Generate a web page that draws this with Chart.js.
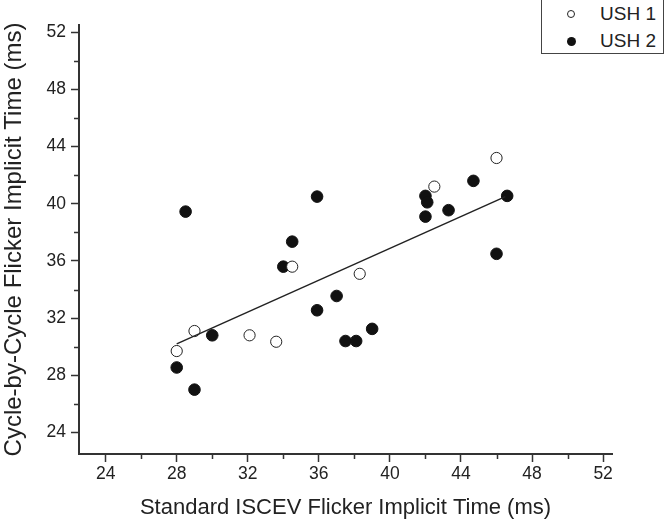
<!DOCTYPE html>
<html>
<head>
<meta charset="utf-8">
<script src="https://cdn.jsdelivr.net/npm/chart.js@4.4.1/dist/chart.umd.min.js"></script>
<style>
  html, body { margin: 0; padding: 0; background: #fff; }
  #wrap { position: relative; width: 664px; height: 522px; }
  #legend { position: absolute; left: 541px; top: -1px; width: 121px; height: 53px;
    border: 1px solid #444; background: #fff; font-family: "Liberation Sans", Arial, sans-serif;
    font-size: 19px; color: #222; }
  .row { position: absolute; left: 0; height: 20px; line-height: 20px; }
  .row span.t { position: absolute; left: 58px; white-space: nowrap; }
  .mk { position: absolute; left: 25px; top: 6px; width: 8px; height: 8px; border-radius: 50%; box-sizing: border-box; }
</style>
</head>
<body>
<div id="wrap">
  <canvas id="c" width="664" height="522"></canvas>
  <div id="legend">
    <div class="row" style="top:4px"><div class="mk" style="border:1px solid #222;background:#fff"></div><span class="t">USH 1</span></div>
    <div class="row" style="top:31px"><div class="mk" style="background:#111;width:9px;height:9px;top:6px"></div><span class="t">USH 2</span></div>
  </div>
</div>
<script>
// ---- data ----
const ush1X = [28.0, 29.0, 32.1, 33.6, 34.5, 38.3, 42.5, 46.0];
const ush1Y = [29.7, 31.1, 30.8, 30.35, 35.6, 35.1, 41.2, 43.2];
const ush2X = [28.5, 34.5, 34.0, 35.9, 28.0, 29.0, 30.0, 35.9, 37.0, 37.5, 38.1, 39.0, 42.0, 42.1, 42.0, 43.3, 44.7, 46.6, 46.0];
const ush2Y = [39.45, 37.35, 35.6, 40.5, 28.55, 27.0, 30.8, 32.55, 33.55, 30.4, 30.4, 31.25, 40.55, 40.1, 39.1, 39.55, 41.6, 40.55, 36.5];
const fitX = [28.0, 46.5];
const fitY = [30.2, 40.5];
const majorTicks = [24, 28, 32, 36, 40, 44, 48, 52];
const minorTicks = [26, 30, 34, 38, 42, 46, 50];
const xTitle = "Standard ISCEV Flicker Implicit Time (ms)";
const yTitle = "Cycle-by-Cycle Flicker Implicit Time (ms)";
const seriesNames = ["USH 1", "USH 2"];

const pts = (xs, ys) => xs.map((x, i) => ({ x, y: ys[i] }));
const FONT = "'Liberation Sans', Arial, sans-serif";
const INK = '#222';

const minorPlugin = {
  id: 'minorTicks',
  afterDraw(chart) {
    const ctx = chart.ctx;
    const xs = chart.scales.x, ys = chart.scales.y;
    ctx.save();
    ctx.strokeStyle = '#333';
    ctx.lineWidth = 1.5;
    ctx.beginPath();
    minorTicks.forEach(v => {
      const px = Math.round(xs.getPixelForValue(v)) + 0.5;
      ctx.moveTo(px, xs.top); ctx.lineTo(px, xs.top + 5);
      const py = Math.round(ys.getPixelForValue(v)) + 0.5;
      ctx.moveTo(ys.right, py); ctx.lineTo(ys.right - 5, py);
    });
    ctx.stroke();
    ctx.restore();
  }
};

new Chart(document.getElementById('c'), {
  type: 'scatter',
  data: {
    datasets: [
      { type: 'line', label: 'fit', data: pts(fitX, fitY), borderColor: INK, borderWidth: 1.5,
        pointRadius: 0, fill: false, tension: 0 },
      { label: seriesNames[0], data: pts(ush1X, ush1Y), backgroundColor: '#fff', borderColor: '#222',
        borderWidth: 1, pointRadius: 5.6 },
      { label: seriesNames[1], data: pts(ush2X, ush2Y), backgroundColor: '#111', borderColor: '#111',
        borderWidth: 1, pointRadius: 5.8 }
    ]
  },
  options: {
    responsive: false,
    animation: false,
    layout: { padding: { top: 25, right: 52, left: 0, bottom: 0 } },
    plugins: { legend: { display: false }, tooltip: { enabled: false } },
    scales: {
      x: {
        type: 'linear', min: 22.5, max: 52.5,
        afterBuildTicks: s => { s.ticks = majorTicks.map(v => ({ value: v })); },
        afterFit: s => { s.height = 68; },
        grid: { drawOnChartArea: false, drawTicks: true, tickLength: 8, tickColor: '#333', tickWidth: 1.5 },
        border: { display: true, color: '#333', width: 2 },
        ticks: { color: INK, font: { family: FONT, size: 17.5 }, padding: 2, maxRotation: 0 },
        title: { display: true, text: xTitle, color: INK, font: { family: FONT, size: 22 }, padding: { top: 2, bottom: 1 } }
      },
      y: {
        type: 'linear', min: 22.5, max: 52.5,
        afterBuildTicks: s => { s.ticks = majorTicks.map(v => ({ value: v })); },
        afterFit: s => { s.width = 79; },
        grid: { drawOnChartArea: false, drawTicks: true, tickLength: 8, tickColor: '#333', tickWidth: 1.5 },
        border: { display: true, color: '#333', width: 2 },
        ticks: { color: INK, font: { family: FONT, size: 17.5 }, padding: 5 },
        title: { display: true, text: yTitle, color: INK, font: { family: FONT, size: 24 }, padding: { top: 0, bottom: 2 } }
      }
    }
  },
  plugins: [minorPlugin]
});
</script>
</body>
</html>
